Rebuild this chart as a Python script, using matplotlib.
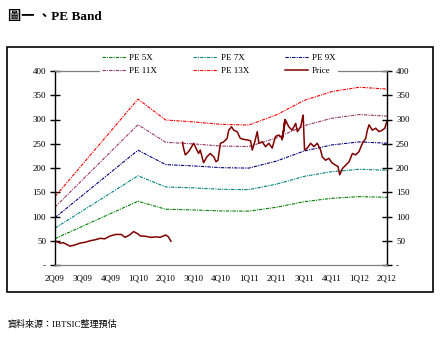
import matplotlib
matplotlib.use("Agg")
import matplotlib.pyplot as plt
from matplotlib.patches import Rectangle
from matplotlib.ticker import FuncFormatter

# ---- data ----
quarters = ["2Q09", "3Q09", "4Q09", "1Q10", "2Q10", "3Q10", "4Q10",
            "1Q11", "2Q11", "3Q11", "4Q11", "1Q12", "2Q12"]
pe5 = [54.3, 80, 105.8, 131.5, 115, 113.5, 111.5, 111, 119, 130.5, 137.5, 141, 139.5]
pe7 = [76, 112, 148, 184, 161, 159, 156, 155.4, 166.6, 182.7, 192.5, 197.4, 195.3]
pe9 = [97.7, 144, 190.4, 236.7, 207, 204.3, 200.7, 199.8, 214.2, 234.9, 247.5, 253.8, 251.1]
pe11 = [119.4, 176, 232.7, 289.3, 253, 249.7, 245.3, 244.2, 261.8, 287.1, 302.5, 310.2, 306.9]
pe13 = [141, 208, 275, 342, 299, 295, 290, 288.6, 309.4, 339.3, 357.5, 366.6, 362.7]

# price, first segment (position in quarters, value)
price1_x = [0.0, 0.18, 0.3, 0.54, 0.7, 0.9, 1.1, 1.27, 1.45, 1.63, 1.8, 2.0, 2.2,
            2.4, 2.53, 2.7, 2.84, 3.0, 3.08, 3.3, 3.44, 3.7, 3.8, 4.0, 4.1, 4.19]
price1_y = [50, 45, 46, 39, 41, 45, 47, 50, 52, 55, 54, 60, 63,
            63, 57, 62, 69, 64, 60, 59, 57, 58, 57, 62, 58, 49]
# price, second segment
price2_x = [4.61, 4.65, 4.71, 4.83, 4.89, 5.01, 5.07, 5.19, 5.25, 5.37, 5.49, 5.61,
            5.74, 5.82, 5.89, 5.98, 6.10, 6.22, 6.28, 6.38, 6.46, 6.58, 6.70, 6.82,
            6.94, 7.07, 7.13, 7.22, 7.31, 7.37, 7.49, 7.61, 7.73, 7.85, 7.97, 8.09,
            8.21, 8.27, 8.31, 8.21, 8.33, 8.45, 8.57, 8.70, 8.76, 8.88, 8.94, 8.97,
            9.00, 9.02, 9.12, 9.24, 9.36, 9.48, 9.60, 9.66, 9.78, 9.90, 10.02, 10.14,
            10.23, 10.29, 10.39, 10.51, 10.63, 10.75, 10.87, 10.99, 11.11, 11.23,
            11.29, 11.35, 11.47, 11.59, 11.71, 11.83, 11.92, 11.99]
price2_y = [253, 240, 227, 234, 239, 251, 244, 230, 237, 211, 223, 230,
            223, 213, 216, 251, 254, 261, 278, 285, 278, 275, 261, 259,
            258, 256, 237, 254, 275, 251, 254, 244, 251, 241, 265, 268,
            261, 278, 300, 258, 299, 285, 278, 292, 275, 285, 302, 309,
            265, 237, 241, 251, 244, 251, 237, 223, 216, 220, 210, 206,
            203, 186, 199, 206, 213, 230, 227, 234, 251, 261,
            278, 289, 278, 282, 275, 278, 282, 295]

# ---- figure ----
W, H = 442, 362
fig = plt.figure(figsize=(W / 100, H / 100), dpi=100)
serif = ["Liberation Serif", "Noto Sans CJK TC", "DejaVu Sans"]
plt.rcParams["font.family"] = serif

ax = fig.add_axes([55 / W, 1 - 265 / H, (387 - 55) / W, (265 - 71) / H])

xs = list(range(len(quarters)))
ls = (0, (3, 1, 1, 1))
bands = [(pe5, "#008000", "PE 5X"), (pe7, "#008080", "PE 7X"), (pe9, "#000080", "PE 9X"),
         (pe11, "#993366", "PE 11X"), (pe13, "#FF0000", "PE 13X")]
handles = []
for vals, col, lab in bands:
    ln, = ax.plot(xs, vals, color=col, lw=0.8, ls=ls, label=lab)
    handles.append(ln)
pcol = "#800000"
ax.plot(price1_x, price1_y, color=pcol, lw=1.1)
pl, = ax.plot(price2_x, price2_y, color=pcol, lw=1.1, label="Price")
handles.append(pl)

ax.set_xlim(0, 12)
ax.set_ylim(0, 400)
ax.set_xticks(xs)
ax.set_xticklabels(quarters)
ax.set_yticks(range(0, 401, 50))
ax.yaxis.set_major_formatter(FuncFormatter(lambda v, p: "-" if v == 0 else f"{int(v)}"))
ax.tick_params(axis="x", length=0, pad=7, labelsize=6.5)
ax.tick_params(axis="y", direction="inout", length=7, width=1, labelsize=6.5,
               left=True, right=True, labelleft=True, labelright=True, pad=3)
for s in ("left", "right"):
    ax.spines[s].set_color("black")
    ax.spines[s].set_linewidth(1)
ax.spines["bottom"].set_color("#808080")
ax.spines["top"].set_color("#808080")
ax.spines["bottom"].set_linewidth(0.9)
ax.spines["top"].set_linewidth(0.9)

# legend filled row by row (matplotlib fills columns first)
order = [0, 3, 1, 4, 2, 5]
lh = [handles[i] for i in order]
leg = fig.legend(lh, [h.get_label() for h in lh], ncol=3, loc="center",
                 bbox_to_anchor=(219 / W, 1 - 64.5 / H), fontsize=6.5,
                 frameon=True, facecolor="white", edgecolor="none", fancybox=False,
                 handlelength=2.6, handletextpad=0.4, columnspacing=4.0,
                 labelspacing=0.45, borderpad=0.3)
leg.get_frame().set_alpha(1)

# outer frame
fig.patches.append(Rectangle((7 / W, 1 - 292 / H), (433 - 7) / W, (292 - 47) / H,
                             transform=fig.transFigure, fill=False, ec="black", lw=1.2))

fig.text(8 / W, 1 - 17 / H, "圖一 、PE Band", fontsize=9.5, fontweight="bold",
         va="center", ha="left", family=serif)
fig.text(8 / W, 1 - 324 / H, "資料來源：IBTSIC整理預估", fontsize=6.5,
         va="center", ha="left", family=serif)

fig.savefig("out.png", dpi=100, facecolor="white")
